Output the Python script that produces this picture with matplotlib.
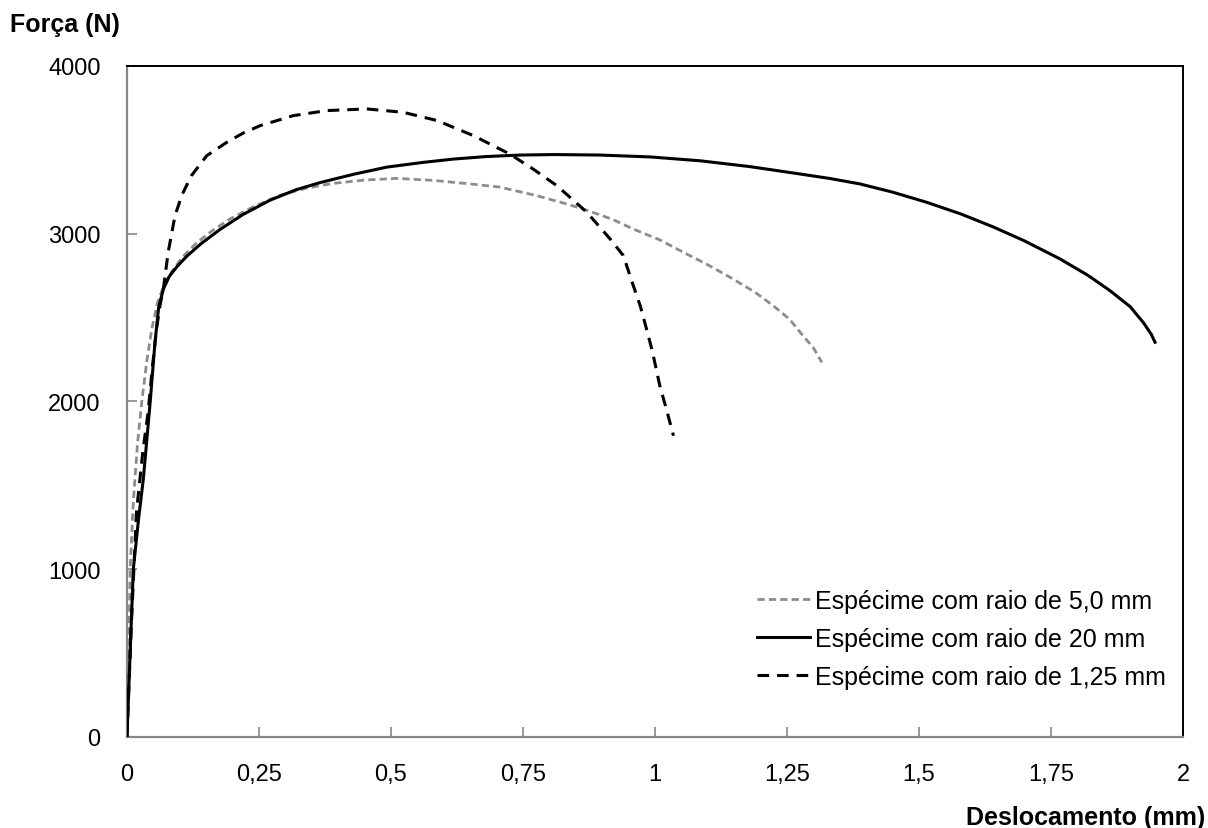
"""Curvas força x deslocamento para espécimes com diferentes raios de entalhe."""
import matplotlib
matplotlib.use("Agg")
import matplotlib.pyplot as plt  # noqa: E402
from matplotlib.ticker import FuncFormatter  # noqa: E402

plt.rcParams["font.family"] = ["Liberation Sans", "DejaVu Sans"]

# espécime com raio de 5,0 mm (cinza tracejado)
x_r5 = [0.0, 0.003, 0.006, 0.012, 0.020, 0.028, 0.038, 0.047, 0.058, 0.069,
        0.085, 0.105, 0.130, 0.160, 0.195, 0.239, 0.290, 0.340, 0.390, 0.450,
        0.511, 0.580, 0.650, 0.706, 0.776, 0.830, 0.871, 0.920, 0.959, 1.010,
        1.054, 1.100, 1.148, 1.190, 1.224, 1.255, 1.275, 1.300, 1.316]
y_r5 = [0, 400, 1000, 1400, 1750, 1997, 2250, 2432, 2590, 2685,
        2775, 2860, 2940, 3015, 3088, 3160, 3230, 3272, 3300, 3320,
        3330, 3318, 3297, 3278, 3227, 3180, 3140, 3085, 3028, 2962,
        2889, 2815, 2730, 2650, 2571, 2490, 2412, 2320, 2233]

# espécime com raio de 20 mm (preto contínuo)
x_r20 = [0.0, 0.006, 0.012, 0.022, 0.031, 0.044, 0.053, 0.060, 0.069, 0.080,
         0.095, 0.113, 0.140, 0.176, 0.220, 0.271, 0.320, 0.366, 0.430, 0.492,
         0.560, 0.618, 0.680, 0.744, 0.810, 0.896, 0.990, 1.085, 1.180, 1.275,
         1.330, 1.388, 1.450, 1.515, 1.580, 1.641, 1.700, 1.767, 1.820, 1.862,
         1.900, 1.925, 1.940, 1.947]
y_r20 = [0, 500, 1000, 1300, 1538, 1997, 2350, 2560, 2671, 2745,
         2805, 2865, 2940, 3025, 3115, 3200, 3262, 3305, 3355, 3397,
         3425, 3445, 3460, 3469, 3472, 3469, 3458, 3435, 3400, 3356,
         3330, 3297, 3248, 3187, 3117, 3040, 2957, 2850, 2752, 2660,
         2565, 2470, 2400, 2353]

# espécime com raio de 1,25 mm (preto tracejado)
x_r125 = [0.0, 0.008, 0.018, 0.030, 0.040, 0.048, 0.056, 0.063, 0.069, 0.078,
          0.091, 0.104, 0.122, 0.151, 0.189, 0.220, 0.252, 0.315, 0.378, 0.454,
          0.523, 0.587, 0.656, 0.725, 0.769, 0.814, 0.871, 0.915, 0.940, 0.959,
          0.972, 0.984, 0.995, 1.009, 1.022, 1.035]
y_r125 = [0, 650, 1340, 1700, 1935, 2200, 2432, 2580, 2671, 2889,
          3108, 3230, 3346, 3465, 3545, 3600, 3644, 3704, 3734, 3744,
          3724, 3675, 3585, 3475, 3386, 3287, 3128, 2969, 2870, 2690,
          2571, 2432, 2300, 2096, 1950, 1796]

x_ticks = [0, 0.25, 0.5, 0.75, 1.0, 1.25, 1.5, 1.75, 2.0]
y_ticks = [0, 1000, 2000, 3000, 4000]

labels = ["Espécime com raio de 5,0 mm", "Espécime com raio de 20 mm",
          "Espécime com raio de 1,25 mm"]

AXIS_GRAY = "#868686"


def fmt_pt(v, _pos):
    s = f"{v:.2f}".rstrip("0").rstrip(".")
    return s.replace(".", ",")


fig = plt.figure(figsize=(12.08, 8.29), dpi=100)
ax = fig.add_axes([0.1051, 0.1098, 0.8742, 0.8094])

ax.plot(x_r5, y_r5, color="#8c8c8c", lw=2.0, ls=(0, (2.6, 1.5)),
        label=labels[0], zorder=2)
ax.plot(x_r20, y_r20, color="black", lw=2.2, label=labels[1], zorder=3)
ax.plot(x_r125, y_r125, color="black", lw=2.2, ls=(0, (3.8, 2.6)),
        label=labels[2], zorder=4)

ax.set_xlim(0, 2)
ax.set_ylim(0, 4000)
ax.set_xticks(x_ticks)
ax.set_yticks(y_ticks)
ax.xaxis.set_major_formatter(FuncFormatter(fmt_pt))
ax.tick_params(direction="in", length=7, width=1.2, color=AXIS_GRAY,
               labelsize=17, labelcolor="black")
ax.tick_params(axis="x", pad=19)
ax.tick_params(axis="y", pad=19)

for sp in ("left", "bottom"):
    ax.spines[sp].set_color(AXIS_GRAY)
    ax.spines[sp].set_linewidth(1.6)
for sp in ("top", "right"):
    ax.spines[sp].set_color("black")
    ax.spines[sp].set_linewidth(1.4)

fig.text(10 / 1208, 1 - 25 / 829, "Força (N)", fontsize=18,
         fontweight="bold", ha="left", va="center")
fig.text(1205 / 1208, 1 - 818 / 829, "Deslocamento (mm)", fontsize=18,
         fontweight="bold", ha="right", va="center")

ax.legend(loc="upper left", bbox_to_anchor=(0.597, 0.221), frameon=False,
          fontsize=18, handlelength=2.1, handletextpad=0.2,
          labelspacing=0.57, borderpad=0, borderaxespad=0)

fig.savefig("out.png", dpi=100, facecolor="white")
